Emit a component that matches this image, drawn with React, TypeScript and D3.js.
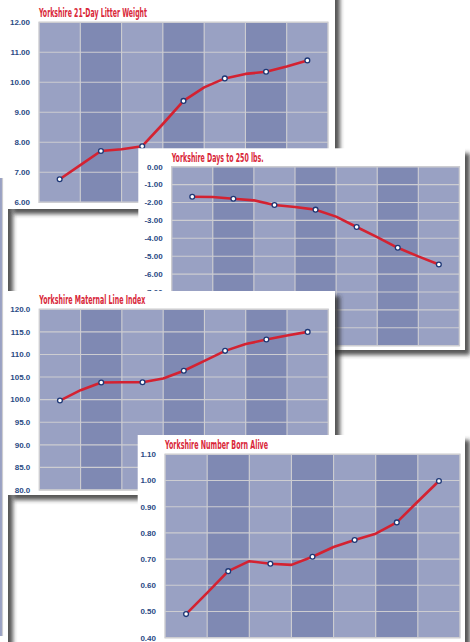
import React, { useEffect } from 'react';
import * as d3 from 'd3';

// seven unlabeled periods per chart; the red trace also has readings between them
const periods = [0, 1, 2, 3, 4, 5, 6];
const traceSteps = [0, 0.5, 1, 1.5, 2, 2.5, 3, 3.5, 4, 4.5, 5, 5.5, 6];

const litterWeight = [6.77, 7.71, 7.87, 9.38, 10.13, 10.35, 10.73];
const litterWeightTrace = [6.77, 7.24, 7.71, 7.77, 7.87, 8.61, 9.38, 9.83, 10.13, 10.28, 10.35, 10.53, 10.73];
const litterTicks = [6, 7, 8, 9, 10, 11, 12];

const daysTo250 = [-1.68, -1.79, -2.14, -2.4, -3.37, -4.53, -5.46];
const daysTo250Trace = [-1.68, -1.69, -1.79, -1.88, -2.14, -2.25, -2.4, -2.79, -3.37, -3.93, -4.53, -5.01, -5.46];
const daysTicks = [0, -1, -2, -3, -4, -5, -6, -7, -8, -9, -10];
// lower labels sit under the maternal index panel
const daysLabels = [0, -1, -2, -3, -4, -5, -6, -7];

const maternalIndex = [99.8, 103.8, 103.85, 106.4, 110.8, 113.3, 115.0];
const maternalIndexTrace = [99.8, 102.1, 103.8, 103.85, 103.85, 104.7, 106.4, 108.6, 110.8, 112.3, 113.3, 114.2, 115.0];
const maternalTicks = [80, 85, 90, 95, 100, 105, 110, 115, 120];

const bornAlive = [0.49, 0.654, 0.682, 0.709, 0.773, 0.84, 0.998];
const bornAliveTrace = [0.49, 0.571, 0.654, 0.692, 0.682, 0.678, 0.709, 0.746, 0.773, 0.797, 0.84, 0.92, 0.998];
const bornAliveTicks = [0.4, 0.5, 0.6, 0.7, 0.8, 0.9, 1.0, 1.1];

const LIGHT = '#99a1c3';
const DARK = '#7f89b3';
const GRID = '#cdcdd1';
const RED = '#d42231';
const NAVY = '#2a4a84';

type Box = { x: number; y: number; w: number; h: number };

type PanelProps = {
  title: string;
  titleWidth: number;
  frame: Box;
  plot: Box;
  domain: [number, number];
  ticks: number[];
  labels?: number[];
  digits: number;
  values: number[];
  trace: number[];
};

const Panel = ({ title, titleWidth, frame, plot, domain, ticks, labels, digits, values, trace }: PanelProps) => {
  const x = d3.scaleLinear().domain([-0.5, 6.5]).range([plot.x, plot.x + plot.w]);
  const y = d3.scaleLinear().domain(domain).range([plot.y + plot.h, plot.y]);
  const line = d3
    .line<number>()
    .x((_, i) => x(traceSteps[i]))
    .y((d) => y(d));

  return (
    <g>
      <rect x={frame.x} y={frame.y} width={frame.w} height={frame.h} fill="#fff" filter="url(#shadow)" />
      <text
        x={plot.x}
        y={plot.y - 5}
        textLength={titleWidth}
        lengthAdjust="spacingAndGlyphs"
        fill="#d9283a"
        fontSize={12.5}
        fontWeight="bold"
        fontFamily="'Liberation Sans Narrow', 'DejaVu Sans Condensed', 'Roboto', sans-serif"
      >
        {title}
      </text>
      {periods.map((p) => (
        <rect
          key={p}
          x={x(p - 0.5)}
          y={plot.y}
          width={x(p + 0.5) - x(p - 0.5)}
          height={plot.h}
          fill={p % 2 === 0 ? LIGHT : DARK}
        />
      ))}
      {ticks.map((t) => (
        <line key={'h' + t} x1={plot.x} x2={plot.x + plot.w} y1={y(t)} y2={y(t)} stroke={GRID} strokeWidth={1.1} />
      ))}
      {periods.slice(1).map((p) => (
        <line key={'v' + p} x1={x(p - 0.5)} x2={x(p - 0.5)} y1={plot.y} y2={plot.y + plot.h} stroke={GRID} strokeWidth={1.1} />
      ))}
      <rect x={plot.x} y={plot.y} width={plot.w} height={plot.h} fill="none" stroke={GRID} strokeWidth={1.4} />
      {(labels ?? ticks).map((t) => (
        <text
          key={'l' + t}
          x={plot.x - 9}
          y={y(t)}
          dy="0.35em"
          textAnchor="end"
          fill={NAVY}
          fontSize={8}
          fontWeight="bold"
          fontFamily="'Liberation Sans', Arial, sans-serif"
        >
          {t.toFixed(digits)}
        </text>
      ))}
      <path d={line(trace) ?? ''} fill="none" stroke={RED} strokeWidth={2.6} strokeLinejoin="round" strokeLinecap="round" />
      {values.map((v, i) => (
        <circle key={'m' + i} cx={x(periods[i])} cy={y(v)} r={2.4} fill="#fff" stroke="#1e3876" strokeWidth={1.3} />
      ))}
    </g>
  );
};

export default function App() {
  useEffect(() => {
    document.body.style.margin = '0';
  }, []);

  return (
    <svg width={470} height={642} style={{ position: 'absolute', left: 0, top: 0, background: '#fff' }}>
      <defs>
        <filter id="shadow" x="-10%" y="-10%" width="130%" height="130%">
          <feDropShadow dx={5} dy={5} stdDeviation={2.3} floodColor="#2a2a2a" floodOpacity={0.8} />
        </filter>
      </defs>
      <rect width={470} height={642} fill="#fff" />

      {/* panel cropped off at the left edge */}
      <rect x={-60} y={-20} width={68} height={700} fill="#fff" filter="url(#shadow)" />
      <rect x={-60} y={178} width={62.5} height={458} fill={LIGHT} />
      <line x1={2.5} x2={2.5} y1={178} y2={636} stroke={GRID} strokeWidth={1.2} />

      <Panel
        title="Yorkshire 21-Day Litter Weight"
        titleWidth={108}
        frame={{ x: 8, y: -10, w: 327, h: 219 }}
        plot={{ x: 39, y: 22.3, w: 289, h: 180 }}
        domain={[6, 12]}
        ticks={litterTicks}
        digits={2}
        values={litterWeight}
        trace={litterWeightTrace}
      />
      <Panel
        title="Yorkshire Days to 250 lbs."
        titleWidth={92}
        frame={{ x: 138.3, y: 148.3, w: 326.7, h: 201.7 }}
        plot={{ x: 171.7, y: 166.7, w: 287.7, h: 179 }}
        domain={[-10, 0]}
        ticks={daysTicks}
        labels={daysLabels}
        digits={2}
        values={daysTo250}
        trace={daysTo250Trace}
      />
      <Panel
        title="Yorkshire Maternal Line Index"
        titleWidth={106}
        frame={{ x: 8, y: 291, w: 327, h: 204 }}
        plot={{ x: 39.3, y: 309.3, w: 289, h: 180.7 }}
        domain={[80, 120]}
        ticks={maternalTicks}
        digits={1}
        values={maternalIndex}
        trace={maternalIndexTrace}
      />
      <Panel
        title="Yorkshire Number Born Alive"
        titleWidth={103}
        frame={{ x: 137.7, y: 435, w: 327.3, h: 230 }}
        plot={{ x: 165, y: 454.3, w: 295, h: 183.4 }}
        domain={[0.4, 1.1]}
        ticks={bornAliveTicks}
        digits={2}
        values={bornAlive}
        trace={bornAliveTrace}
      />
    </svg>
  );
}
